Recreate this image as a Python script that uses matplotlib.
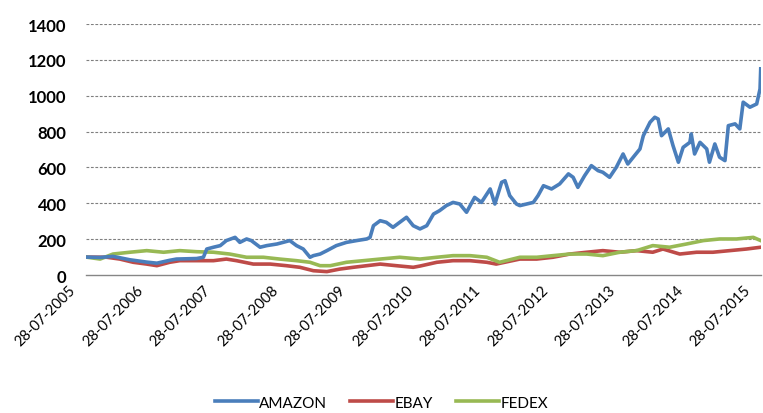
import matplotlib
matplotlib.use("Agg")
import matplotlib.pyplot as plt
from matplotlib.transforms import ScaledTranslation
from datetime import datetime

# decimal years / index values (base 100 on 28-07-2005)
amazon_t = [2005.57, 2005.78, 2005.97, 2006.22, 2006.47, 2006.62, 2006.81, 2006.91,
            2007.21, 2007.31, 2007.36, 2007.46, 2007.56, 2007.65, 2007.78, 2007.85,
            2007.95, 2008.02, 2008.15, 2008.25, 2008.40, 2008.49, 2008.59, 2008.69,
            2008.79, 2008.89, 2008.94, 2009.04, 2009.14, 2009.28, 2009.43, 2009.58,
            2009.73, 2009.78, 2009.83, 2009.93, 2010.02, 2010.12, 2010.22, 2010.32,
            2010.42, 2010.52, 2010.62, 2010.72, 2010.81, 2010.91, 2011.01, 2011.11,
            2011.21, 2011.33, 2011.43, 2011.56, 2011.63, 2011.73, 2011.78, 2011.85,
            2011.95, 2012.00, 2012.10, 2012.20, 2012.27, 2012.35, 2012.47, 2012.59,
            2012.72, 2012.79, 2012.86, 2012.96, 2013.06, 2013.16, 2013.23, 2013.33,
            2013.43, 2013.53, 2013.60, 2013.70, 2013.78, 2013.83, 2013.93, 2014.00,
            2014.05, 2014.10, 2014.20, 2014.27, 2014.35, 2014.42, 2014.52, 2014.54,
            2014.59, 2014.67, 2014.77, 2014.81, 2014.89, 2014.96, 2015.04, 2015.09,
            2015.19, 2015.26, 2015.31, 2015.41, 2015.51, 2015.56, 2015.57]
amazon = [100, 98, 104, 85, 72, 66, 82, 89,
          92, 99, 145, 155, 164, 192, 210, 182,
          201, 192, 155, 164, 173, 182, 192, 164,
          145, 99, 108, 117, 136, 164, 182, 192,
          201, 210, 275, 303, 294, 266, 294, 322,
          275, 257, 275, 340, 359, 387, 405, 396,
          350, 433, 405, 480, 396, 517, 526, 443,
          396, 387, 396, 405, 443, 498, 480, 508,
          564, 545, 489, 554, 610, 582, 573, 545,
          601, 675, 619, 666, 703, 777, 852, 880,
          870, 777, 815, 722, 629, 712, 740, 787,
          675, 740, 703, 629, 731, 657, 638, 833,
          843, 815, 964, 936, 954, 1038, 1150]

ebay_t = [2005.57, 2005.88, 2006.07, 2006.27, 2006.47, 2006.62, 2006.81, 2006.96,
          2007.21, 2007.46, 2007.65, 2007.80, 2008.05, 2008.30, 2008.54, 2008.74,
          2008.94, 2009.14, 2009.33, 2009.53, 2009.73, 2009.93, 2010.17, 2010.42,
          2010.52, 2010.77, 2011.01, 2011.26, 2011.51, 2011.65, 2012.00, 2012.25,
          2012.49, 2012.74, 2012.99, 2013.23, 2013.48, 2013.73, 2013.97, 2014.12,
          2014.37, 2014.62, 2014.86, 2015.11, 2015.36, 2015.57]
ebay = [100, 99, 89, 71, 61, 52, 71, 80,
        80, 80, 89, 80, 61, 61, 52, 43,
        24, 19, 33, 43, 52, 61, 52, 43,
        50, 71, 80, 80, 71, 61, 89, 89,
        99, 117, 127, 136, 127, 136, 127, 145,
        117, 127, 127, 136, 145, 155]

fedex_t = [2005.57, 2005.78, 2005.97, 2006.22, 2006.47, 2006.72, 2006.96, 2007.21,
           2007.46, 2007.70, 2007.95, 2008.20, 2008.44, 2008.69, 2008.89, 2009.04,
           2009.19, 2009.43, 2009.68, 2009.93, 2010.22, 2010.52, 2010.77, 2011.01,
           2011.26, 2011.51, 2011.70, 2012.00, 2012.25, 2012.49, 2012.74, 2012.99,
           2013.23, 2013.48, 2013.73, 2013.97, 2014.22, 2014.47, 2014.72, 2014.96,
           2015.21, 2015.46, 2015.57]
fedex = [100, 89, 117, 127, 136, 127, 136, 130,
         127, 117, 99, 99, 89, 80, 71, 52,
         52, 71, 80, 89, 99, 89, 99, 108,
         108, 99, 71, 99, 99, 108, 117, 117,
         108, 127, 136, 164, 155, 173, 192, 201,
         201, 210, 192]

tick_labels = ["28-07-2005", "28-07-2006", "28-07-2007", "28-07-2008", "28-07-2009",
               "28-07-2010", "28-07-2011", "28-07-2012", "28-07-2013", "28-07-2014",
               "28-07-2015"]
y_ticks = [0, 200, 400, 600, 800, 1000, 1200, 1400]


def dec_year(label):
    d = datetime.strptime(label, "%d-%m-%Y")
    start = datetime(d.year, 1, 1)
    return d.year + (d - start).days / 365.0


plt.rcParams["font.family"] = ["Lato", "DejaVu Sans"]

fig = plt.figure(figsize=(7.63, 4.14), dpi=100)
ax = fig.add_axes([0.1127, 0.3333, 0.8843, 0.6063])

ax.plot(amazon_t, amazon, color="#4A7EBB", lw=2.6, label="AMAZON", zorder=3,
        solid_joinstyle="round")
ax.plot(ebay_t, ebay, color="#BE4B48", lw=2.6, label="EBAY", zorder=2,
        solid_joinstyle="round")
ax.plot(fedex_t, fedex, color="#98B954", lw=2.6, label="FEDEX", zorder=2,
        solid_joinstyle="round")

xt = [dec_year(s) for s in tick_labels]
ax.set_xlim(xt[0], xt[-1])
ax.set_ylim(0, 1400)
ax.set_xticks(xt)
ax.set_xticklabels([])
# date labels drawn by hand so they can sit a little left of each tick
lab_tr = ax.get_xaxis_transform() + ScaledTranslation(-9 / 72, -9 / 72, fig.dpi_scale_trans)
for pos, s in zip(xt, tick_labels):
    ax.text(pos, 0, s, transform=lab_tr, rotation=45, ha="right", va="center",
            rotation_mode="anchor", fontsize=10.5)

ax.set_yticks(y_ticks)
ax.set_yticklabels([str(v) for v in y_ticks], fontsize=12, fontweight="bold")
ax.tick_params(axis="both", length=0)
ax.tick_params(axis="y", pad=14)

for v in y_ticks[1:]:
    ax.axhline(v, color="#7f7f7f", lw=0.8, ls=(0, (2.5, 1.5)), zorder=1)

for s in ["top", "right", "left"]:
    ax.spines[s].set_visible(False)
ax.spines["bottom"].set_color("#868686")
ax.spines["bottom"].set_linewidth(1.0)

fig.legend(loc="center", bbox_to_anchor=(0.5, 0.025), ncol=3, frameon=False,
           fontsize=11, handlelength=2.8, handletextpad=0.1, columnspacing=1.5)

fig.savefig("out.png", dpi=100)
